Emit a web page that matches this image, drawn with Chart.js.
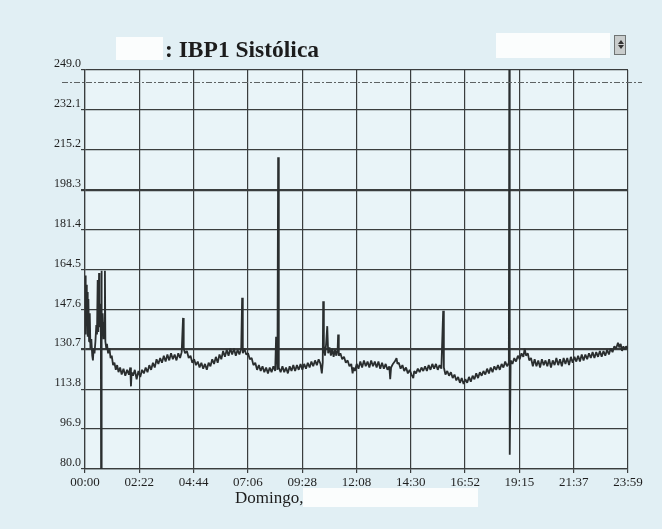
<!DOCTYPE html>
<html lang="es">
<head>
<meta charset="utf-8">
<title>IBP1 Sistólica</title>
<script src="https://cdn.jsdelivr.net/npm/chart.js@4.4.1/dist/chart.umd.min.js"></script>
<style>
  html, body { margin: 0; padding: 0; background: #e1eff4; }
  #wrap { position: relative; width: 662px; height: 529px; overflow: hidden; }
  #chart { position: absolute; left: 0; top: 0; }
  .blank { position: absolute; background: #fbfdfd; }
  .txt { position: absolute; font-family: "Liberation Serif", "Times New Roman", serif; color: #1c1c1c; white-space: nowrap; }
  #title { left: 165px; top: 37px; font-size: 23.5px; line-height: 24px; font-weight: bold; }
  #day { left: 235px; top: 489px; font-size: 17px; line-height: 17px; }
  #drop { position: absolute; left: 614px; top: 35px; width: 12px; height: 20px;
          background: #c9cdcd; border: 1px solid #6f7474; box-sizing: border-box; }
  #drop .up { position: absolute; left: 3px; top: 4px; width: 0; height: 0;
              border-left: 3px solid transparent; border-right: 3px solid transparent; border-bottom: 4px solid #333; }
  #drop .dn { position: absolute; left: 3px; top: 9px; width: 0; height: 0;
              border-left: 3px solid transparent; border-right: 3px solid transparent; border-top: 4px solid #333; }
</style>
</head>
<body>
<div id="wrap">
  <canvas id="chart" width="662" height="529"></canvas>
  <div class="blank" style="left:116px; top:37px; width:47px; height:23px;"></div>
  <div class="txt" id="title">: IBP1 Sistólica</div>
  <div class="blank" style="left:496px; top:33px; width:114px; height:25px;"></div>
  <div id="drop"><div class="up"></div><div class="dn"></div></div>
  <div class="txt" id="day">Domingo,</div>
  <div class="blank" style="left:303px; top:488px; width:175px; height:19px;"></div>
</div>
<script>
// Time axis labels (hh:mm) and pressure axis labels (mmHg)
const timeLabels = ['00:00', '02:22', '04:44', '07:06', '09:28', '12:08', '14:30', '16:52', '19:15', '21:37', '23:59'];
const pressureLabels = ['80.0', '96.9', '113.8', '130.7', '147.6', '164.5', '181.4', '198.3', '215.2', '232.1', '249.0'];

// Alarm limits shown as heavier grid lines, and the upper dashed reference line
const alarmLines = [198.3, 130.7];
const upperLimit = 244;

// Sample times (hours since 00:00)
const sampleHours = [
  0.00, 0.02, 0.04, 0.06, 0.08, 0.10, 0.12, 0.15, 0.18, 0.21,
  0.24, 0.28, 0.32, 0.35, 0.38, 0.42, 0.46, 0.50, 0.53, 0.56,
  0.59, 0.62, 0.64, 0.67, 0.70, 0.71, 0.72, 0.75, 0.78, 0.82,
  0.85, 0.88, 0.90, 0.94, 0.97, 1.02, 1.08, 1.13, 1.18, 1.24,
  1.30, 1.36, 1.42, 1.48, 1.55, 1.62, 1.70, 1.78, 1.86, 1.94,
  2.00, 2.03, 2.06, 2.12, 2.20, 2.28, 2.36, 2.44, 2.52, 2.60,
  2.68, 2.76, 2.84, 2.92, 3.00, 3.08, 3.16, 3.24, 3.32, 3.40,
  3.48, 3.56, 3.64, 3.72, 3.80, 3.88, 3.96, 4.04, 4.12, 4.20,
  4.27, 4.33, 4.36, 4.42, 4.50, 4.58, 4.66, 4.74, 4.82, 4.90,
  4.98, 5.06, 5.14, 5.22, 5.30, 5.38, 5.46, 5.54, 5.62, 5.70,
  5.78, 5.86, 5.94, 6.02, 6.10, 6.18, 6.26, 6.34, 6.42, 6.50,
  6.58, 6.66, 6.74, 6.82, 6.90, 6.94, 6.97, 7.04, 7.12, 7.20,
  7.28, 7.36, 7.44, 7.52, 7.60, 7.68, 7.76, 7.84, 7.92, 8.00,
  8.08, 8.16, 8.24, 8.32, 8.40, 8.44, 8.50, 8.53, 8.56, 8.64,
  8.72, 8.80, 8.88, 8.96, 9.04, 9.12, 9.20, 9.28, 9.36, 9.44,
  9.52, 9.60, 9.68, 9.76, 9.84, 9.92, 10.00, 10.08, 10.16, 10.24,
  10.32, 10.40, 10.46, 10.50, 10.52, 10.55, 10.60, 10.65, 10.70, 10.74,
  10.80, 10.86, 10.92, 10.98, 11.04, 11.10, 11.16, 11.18, 11.21, 11.28,
  11.36, 11.44, 11.52, 11.60, 11.68, 11.76, 11.82, 11.86, 11.92, 12.00,
  12.08, 12.16, 12.24, 12.32, 12.40, 12.48, 12.56, 12.64, 12.72, 12.80,
  12.88, 12.96, 13.04, 13.12, 13.20, 13.28, 13.36, 13.44, 13.48, 13.52,
  13.60, 13.68, 13.76, 13.80, 13.86, 13.94, 14.02, 14.10, 14.18, 14.26,
  14.34, 14.42, 14.50, 14.54, 14.62, 14.70, 14.78, 14.86, 14.94, 15.02,
  15.10, 15.18, 15.26, 15.34, 15.42, 15.50, 15.58, 15.66, 15.74, 15.82,
  15.85, 15.92, 16.00, 16.08, 16.16, 16.24, 16.32, 16.40, 16.48, 16.56,
  16.64, 16.72, 16.80, 16.88, 16.96, 17.04, 17.12, 17.20, 17.28, 17.36,
  17.44, 17.52, 17.60, 17.68, 17.76, 17.84, 17.92, 18.00, 18.08, 18.16,
  18.24, 18.32, 18.40, 18.48, 18.56, 18.64, 18.72, 18.74, 18.76, 18.80,
  18.88, 18.96, 19.04, 19.12, 19.20, 19.28, 19.36, 19.42, 19.48, 19.56,
  19.62, 19.70, 19.78, 19.86, 19.94, 20.02, 20.10, 20.18, 20.26, 20.34,
  20.42, 20.50, 20.58, 20.66, 20.74, 20.82, 20.90, 20.98, 21.06, 21.14,
  21.22, 21.30, 21.38, 21.46, 21.54, 21.62, 21.70, 21.78, 21.86, 21.94,
  22.02, 22.10, 22.18, 22.26, 22.34, 22.42, 22.50, 22.58, 22.66, 22.74,
  22.82, 22.90, 22.98, 23.06, 23.14, 23.22, 23.30, 23.38, 23.46, 23.54,
  23.60, 23.66, 23.72, 23.78, 23.84, 23.90, 23.98
];

// Systolic invasive pressure, mmHg, one value per sample time
const systolic = [
  148, 162, 137, 158, 141, 155, 136, 152, 134, 146,
  131, 135, 128, 126, 131, 129, 134, 141, 137, 160,
  138, 163, 140, 150, 143, 80, 164, 140, 146, 135,
  142, 164, 134, 131, 133, 129, 131, 127, 128, 124,
  125, 122, 124, 121, 123, 120, 122.5, 119.5, 122, 120,
  123, 115, 121, 119.5, 122, 118, 121.5, 119, 122, 120.5,
  123, 121, 124, 122, 125, 123, 126.5, 124.5, 127, 125,
  128, 125.5, 128.5, 126, 129, 126.5, 128.5, 126, 129, 127,
  129.5, 144, 131, 129, 130, 127, 128, 125, 126.5, 124,
  125.5, 123, 125, 122.5, 124.5, 122, 125, 123.5, 126.5, 124.5,
  127.5, 125, 128.5, 126.5, 130, 127.5, 130.5, 128, 131, 128.5,
  131, 128, 130.5, 128.5, 131, 152.5, 129, 131, 128.5, 129,
  126.5, 127, 124, 125, 122, 124, 121.5, 123.5, 121, 123,
  120.5, 123, 121, 123.5, 121.5, 136, 122, 212, 123, 121,
  123.5, 121, 123, 120.5, 123.5, 121.5, 124, 121.5, 124, 122,
  124.5, 122, 124.5, 122.5, 125, 123, 125.5, 123.5, 126, 124,
  126.5, 124.5, 120.5, 125, 151, 132, 128, 133, 140.5, 129,
  131.5, 128, 131, 127.5, 130.5, 128, 131, 137, 128, 129,
  126.5, 127.5, 125, 126, 123.5, 124.5, 120.5, 123, 121.5, 124.5,
  122.5, 125.5, 123, 126, 123.5, 125.5, 123, 126, 123.5, 125.5,
  123, 125.5, 122.5, 125, 122.5, 124.5, 122, 123.5, 118, 123,
  124.5, 125.5, 127, 124.5, 125, 122.5, 124, 121.5, 123, 120.5,
  122, 120, 118.5, 121.5, 120.5, 122.5, 121, 123, 121.5, 123.5,
  121.5, 124, 122, 124.5, 122.5, 124.5, 122, 124, 122.5, 147,
  123, 120, 121.5, 119.5, 121, 118.5, 120, 117.5, 119, 116.5,
  118.5, 116, 118, 116.5, 119, 117, 119.5, 118, 120.5, 118.5,
  121, 119.5, 121.5, 120, 122.5, 120.5, 123, 121, 123.5, 122,
  124, 122, 124.5, 123, 125.5, 123.5, 125, 249, 86, 126,
  124.5, 127, 125.5, 128, 126.5, 129, 127.5, 131, 128, 129,
  126, 127, 123.5, 126.5, 123.5, 126, 123, 126.5, 124, 126,
  123.5, 126.5, 123, 126, 124, 127, 124, 126.5, 123.5, 127,
  124.5, 127, 124, 127.5, 125, 127.5, 125.5, 128, 125.5, 128.5,
  126, 128.5, 126.5, 129, 127, 129.5, 127, 129.5, 127.5, 130,
  127.5, 130, 128, 130.5, 128.5, 131, 129.5, 132, 131, 133.5,
  131.5, 133, 130, 132, 130.5, 132, 131
];

const DAY_END = 23 + 59 / 60;
const gridColor = '#3a3d3e';
const serif = '"Liberation Serif", "Times New Roman", serif';

// Page and plot-area backgrounds
const backdrop = {
  id: 'backdrop',
  beforeDraw(chart) {
    const { ctx, chartArea: a } = chart;
    ctx.save();
    ctx.fillStyle = '#e1eff4';
    ctx.fillRect(0, 0, chart.width, chart.height);
    ctx.fillStyle = '#e9f4f8';
    ctx.fillRect(a.left, a.top, a.right - a.left, a.bottom - a.top);
    ctx.restore();
  }
};

// Dash-dot upper reference line, running slightly past both plot edges
const upperLine = {
  id: 'upperLine',
  afterDraw(chart) {
    const { ctx, chartArea: a, scales } = chart;
    const y = Math.round(scales.y.getPixelForValue(upperLimit)) + 0.5;
    ctx.save();
    ctx.strokeStyle = '#5d6263';
    ctx.lineWidth = 1;
    ctx.setLineDash([6, 2, 2, 2]);
    ctx.beginPath();
    ctx.moveTo(a.left - 23, y);
    ctx.lineTo(a.right + 14, y);
    ctx.stroke();
    ctx.restore();
  }
};

new Chart(document.getElementById('chart'), {
  type: 'line',
  data: {
    datasets: [{
      data: sampleHours.map((h, i) => ({ x: h, y: systolic[i] })),
      borderColor: '#2a2e2f',
      borderWidth: 1.8,
      borderJoinStyle: 'bevel',
      pointRadius: 0,
      tension: 0,
      fill: false
    }]
  },
  options: {
    responsive: false,
    animation: false,
    events: [],
    layout: { padding: { top: 70, right: 34, left: 0, bottom: 0 } },
    plugins: { legend: { display: false }, tooltip: { enabled: false }, title: { display: false } },
    scales: {
      x: {
        type: 'linear',
        min: 0,
        max: DAY_END,
        afterBuildTicks: s => { s.ticks = timeLabels.map((_, i) => ({ value: i * DAY_END / 10 })); },
        afterFit: s => { s.height = 60; },
        ticks: {
          autoSkip: false,
          maxRotation: 0,
          padding: 2,
          color: '#1f1f1f',
          font: { family: serif, size: 13 },
          callback: (v, i) => timeLabels[i]
        },
        grid: { color: gridColor, lineWidth: 1.2, tickLength: 4, drawTicks: true },
        border: { display: true, color: gridColor, width: 1.2 }
      },
      y: {
        type: 'linear',
        min: 80,
        max: 249,
        afterBuildTicks: s => { s.ticks = pressureLabels.map(t => ({ value: parseFloat(t) })); },
        afterFit: s => { s.width = 85; },
        ticks: {
          autoSkip: false,
          padding: 0,
          labelOffset: -6,
          color: '#1f1f1f',
          font: { family: serif, size: 12 },
          callback: (v, i) => pressureLabels[i]
        },
        grid: {
          color: gridColor,
          tickLength: 4,
          lineWidth: c => (c.tick && alarmLines.includes(c.tick.value)) ? 2.2 : 1.2
        },
        border: { display: true, color: gridColor, width: 1.2 }
      }
    }
  },
  plugins: [backdrop, upperLine]
});
</script>
</body>
</html>
